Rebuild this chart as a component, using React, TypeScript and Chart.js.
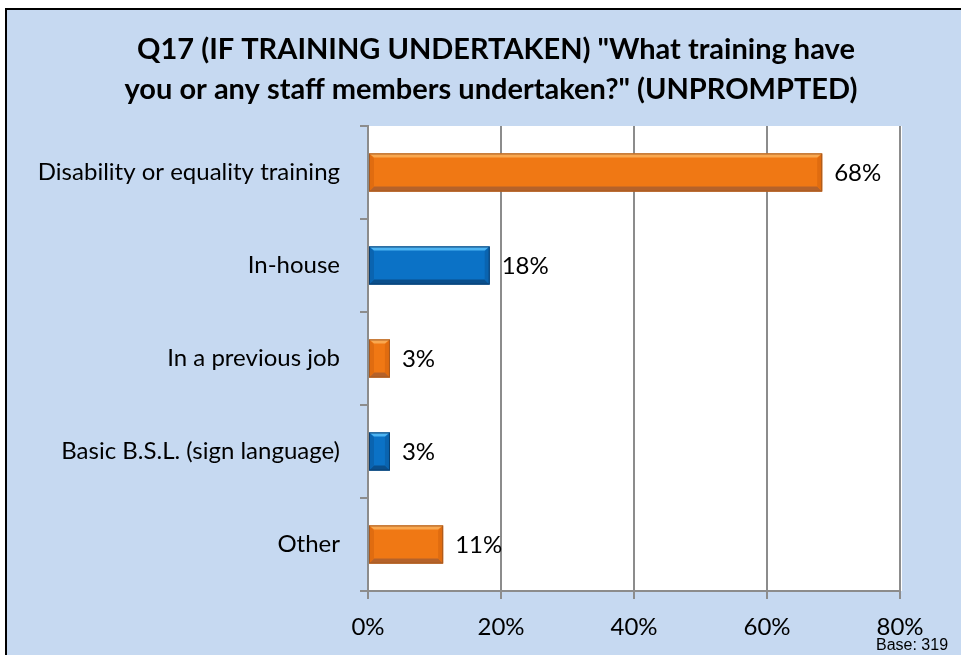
import React, { useEffect, useRef } from "react";
import { Chart, registerables } from "chart.js";

Chart.register(...registerables);

const titleLines = [
  'Q17 (IF TRAINING UNDERTAKEN) "What training have',
  'you or any staff members undertaken?" (UNPROMPTED)',
];
const categories = [
  "Disability or equality training",
  "In-house",
  "In a previous job",
  "Basic B.S.L. (sign language)",
  "Other",
];
const values = [68, 18, 3, 3, 11];
const barColors = ["#F07814", "#0B72C6", "#F07814", "#0B72C6", "#F07814"];
const xTickValues = [0, 20, 40, 60, 80];
const baseNote = "Base: 319";

const palette: Record<string, { light: string; dark: string; edge: string; side: string }> = {
  "#F07814": { light: "#F9A850", dark: "#B5622A", edge: "#A65A20", side: "#E06C10" },
  "#0B72C6": { light: "#4DB4F2", dark: "#0A4F8C", edge: "#0A3E70", side: "#0A64B0" },
};

const FONT = "Lato, 'Liberation Sans', sans-serif";

const decorPlugin = {
  id: "decor",
  beforeDraw(chart: any) {
    const ctx = chart.ctx;
    const { width, height, chartArea } = chart;
    ctx.save();
    ctx.fillStyle = "#ffffff";
    ctx.fillRect(0, 0, width, height);
    ctx.fillStyle = "#C6D9F1";
    ctx.fillRect(5, 8, width, height);
    ctx.strokeStyle = "#000000";
    ctx.lineWidth = 2;
    ctx.strokeRect(6, 9, width + 10, height + 10);
    ctx.fillStyle = "#ffffff";
    ctx.fillRect(chartArea.left, chartArea.top, chartArea.right - chartArea.left + 2, chartArea.bottom - chartArea.top);
    // title
    ctx.fillStyle = "#000000";
    ctx.font = `bold 29px ${FONT}`;
    ctx.textAlign = "center";
    ctx.textBaseline = "middle";
    ctx.fillText(titleLines[0], 496, 50);
    ctx.fillText(titleLines[1], 491, 90);
    ctx.restore();
  },
  afterDatasetsDraw(chart: any) {
    const ctx = chart.ctx;
    const meta = chart.getDatasetMeta(0);
    ctx.save();
    meta.data.forEach((bar: any, i: number) => {
      const { x, y, base, height } = bar.getProps(["x", "y", "base", "height"], true);
      const left = Math.min(base, x);
      const right = Math.max(base, x) + 2;
      const top = y - height / 2;
      const bottom = y + height / 2;
      const w = right - left;
      const p = palette[barColors[i]];
      ctx.fillStyle = barColors[i];
      ctx.fillRect(left, top, w, height);
      const b = Math.min(5, w / 3);
      // top bevel
      ctx.fillStyle = p.light;
      ctx.beginPath();
      ctx.moveTo(left, top);
      ctx.lineTo(right, top);
      ctx.lineTo(right - b, top + b - 1);
      ctx.lineTo(left + b, top + b - 1);
      ctx.closePath();
      ctx.fill();
      // bottom bevel
      ctx.fillStyle = p.dark;
      ctx.beginPath();
      ctx.moveTo(left, bottom);
      ctx.lineTo(right, bottom);
      ctx.lineTo(right - b, bottom - b);
      ctx.lineTo(left + b, bottom - b);
      ctx.closePath();
      ctx.fill();
      // left and right bevels
      ctx.fillStyle = p.side;
      ctx.beginPath();
      ctx.moveTo(left, top);
      ctx.lineTo(left + b, top + b);
      ctx.lineTo(left + b, bottom - b);
      ctx.lineTo(left, bottom);
      ctx.closePath();
      ctx.fill();
      ctx.beginPath();
      ctx.moveTo(right, top);
      ctx.lineTo(right - b, top + b);
      ctx.lineTo(right - b, bottom - b);
      ctx.lineTo(right, bottom);
      ctx.closePath();
      ctx.fill();
      ctx.strokeStyle = p.edge;
      ctx.lineWidth = 1;
      ctx.strokeRect(left + 0.5, top + 0.5, w - 1, height - 1);
      // value label
      ctx.fillStyle = "#000000";
      ctx.font = `24px ${FONT}`;
      ctx.textAlign = "left";
      ctx.textBaseline = "middle";
      ctx.fillText(values[i] + "%", right + 12, y + 1);
    });
    // base note
    ctx.font = "16px 'Liberation Sans', Arial, sans-serif";
    ctx.textAlign = "left";
    ctx.textBaseline = "alphabetic";
    ctx.fillText(baseNote, 876, 650);
    ctx.restore();
  },
};

export default function App() {
  const ref = useRef<HTMLCanvasElement>(null);
  useEffect(() => {
    if (!ref.current) return;
    const chart = new Chart(ref.current, {
      type: "bar",
      data: {
        labels: categories,
        datasets: [
          {
            data: values,
            backgroundColor: "rgba(0,0,0,0)",
            borderWidth: 0,
            barPercentage: 0.41,
            categoryPercentage: 1,
          },
        ],
      },
      options: {
        indexAxis: "y",
        responsive: false,
        animation: false,
        devicePixelRatio: 1,
        layout: { padding: { top: 126, right: 61, left: 0, bottom: 0 } },
        plugins: {
          legend: { display: false },
          title: { display: false },
          tooltip: { enabled: false },
        },
        scales: {
          x: {
            min: 0,
            max: 80,
            afterBuildTicks(scale: any) {
              scale.ticks = xTickValues.map((v) => ({ value: v }));
            },
            afterFit(scale: any) {
              scale.height = 64;
            },
            ticks: {
              callback: (v: any) => v + "%",
              font: { family: FONT, size: 24 },
              color: "#000000",
              padding: 14,
              maxRotation: 0,
            },
            grid: { color: "#8C8C8C", lineWidth: 2, tickLength: 8 },
            border: { color: "#8C8C8C", width: 2 },
          },
          y: {
            afterFit(scale: any) {
              scale.width = 368;
            },
            ticks: {
              font: { family: FONT, size: 24 },
              color: "#000000",
              padding: 20,
            },
            grid: { drawOnChartArea: false, offset: true, color: "#8C8C8C", lineWidth: 2, tickLength: 8 },
            border: { color: "#8C8C8C", width: 2 },
          },
        },
      },
      plugins: [decorPlugin],
    });
    return () => chart.destroy();
  }, []);
  return (
    <div style={{ position: "fixed", left: 0, top: 0, width: 961, height: 655 }}>
      <canvas ref={ref} width={961} height={655} style={{ display: "block", width: 961, height: 655 }} />
    </div>
  );
}
